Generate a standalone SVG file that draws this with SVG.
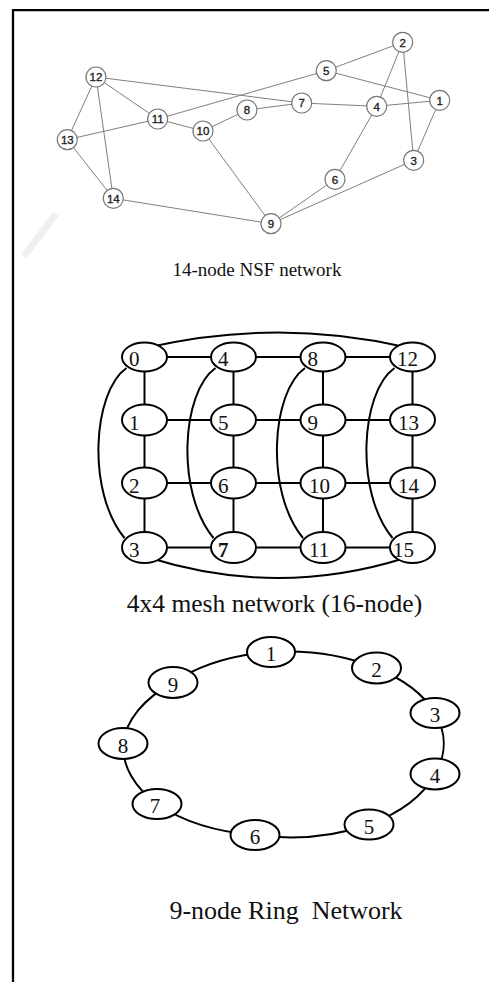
<svg xmlns="http://www.w3.org/2000/svg" width="489" height="982" viewBox="0 0 489 982">
<style>
.frame{stroke:#000;stroke-width:2.3;fill:none}
.nl{stroke:#808080;stroke-width:1;fill:none}
.nn{fill:#fff;stroke:#777;stroke-width:1.2}
.nt{font-family:"Liberation Sans",Arial,sans-serif;font-size:11.5px;fill:#222;stroke:#222;stroke-width:0.35;text-anchor:middle}
.ml{stroke:#000;stroke-width:2;fill:none}
.mn{fill:#fff;stroke:#000;stroke-width:2}
.mt{font-family:"Liberation Serif","Times New Roman",serif;font-size:21px;fill:#111}
.rt{font-family:"Liberation Serif","Times New Roman",serif;font-size:21px;fill:#111;text-anchor:middle}
.cap{font-family:"Liberation Serif","Times New Roman",serif;fill:#111;text-anchor:middle}
</style>
<rect width="489" height="982" fill="#fff"/>
<g id="frame">
<path class="frame" d="M13 982 V10.2 H489"/>
</g>
<g id="watermark">
<path d="M24 256 L56 214" stroke="#efefef" stroke-width="7" fill="none"/>
</g>

<!-- NSF connectors -->
<g id="nsf-connectors" class="nl">
<line x1="96" y1="77" x2="67.3" y2="139.7"/>
<line x1="96" y1="77" x2="113.3" y2="198.3"/>
<line x1="96" y1="77" x2="157.7" y2="119"/>
<line x1="96" y1="77" x2="301.7" y2="103"/>
<line x1="67.3" y1="139.7" x2="157.7" y2="119"/>
<line x1="67.3" y1="139.7" x2="113.3" y2="198.3"/>
<line x1="157.7" y1="119" x2="203" y2="131"/>
<line x1="157.7" y1="119" x2="326.3" y2="70.7"/>
<line x1="203" y1="131" x2="247" y2="110"/>
<line x1="203" y1="131" x2="271" y2="223.7"/>
<line x1="247" y1="110" x2="301.7" y2="103"/>
<line x1="301.7" y1="103" x2="376.7" y2="106.3"/>
<line x1="113.3" y1="198.3" x2="271" y2="223.7"/>
<line x1="326.3" y1="70.7" x2="402.7" y2="42.3"/>
<line x1="326.3" y1="70.7" x2="439.7" y2="100.3"/>
<line x1="402.7" y1="42.3" x2="376.7" y2="106.3"/>
<line x1="402.7" y1="42.3" x2="413.7" y2="160.3"/>
<line x1="376.7" y1="106.3" x2="439.7" y2="100.3"/>
<line x1="376.7" y1="106.3" x2="335" y2="179.3"/>
<line x1="439.7" y1="100.3" x2="413.7" y2="160.3"/>
<line x1="335" y1="179.3" x2="271" y2="223.7"/>
<line x1="413.7" y1="160.3" x2="271" y2="223.7"/>
</g>
<g id="nsf-nodes">
<g id="nsf1"><circle class="nn" cx="439.7" cy="100.3" r="10"/><text class="nt" x="439.7" y="104.5">1</text></g>
<g id="nsf2"><circle class="nn" cx="402.7" cy="42.3" r="10"/><text class="nt" x="402.7" y="46.5">2</text></g>
<g id="nsf3"><circle class="nn" cx="413.7" cy="160.3" r="10"/><text class="nt" x="413.7" y="164.5">3</text></g>
<g id="nsf4"><circle class="nn" cx="376.7" cy="106.3" r="10"/><text class="nt" x="376.7" y="110.5">4</text></g>
<g id="nsf5"><circle class="nn" cx="326.3" cy="70.7" r="10"/><text class="nt" x="326.3" y="74.9">5</text></g>
<g id="nsf6"><circle class="nn" cx="335" cy="179.3" r="10"/><text class="nt" x="335" y="183.5">6</text></g>
<g id="nsf7"><circle class="nn" cx="301.7" cy="103" r="10"/><text class="nt" x="301.7" y="107.2">7</text></g>
<g id="nsf8"><circle class="nn" cx="247" cy="110" r="10"/><text class="nt" x="247" y="114.2">8</text></g>
<g id="nsf9"><circle class="nn" cx="271" cy="223.7" r="10"/><text class="nt" x="271" y="227.9">9</text></g>
<g id="nsf10"><circle class="nn" cx="203" cy="131" r="10"/><text class="nt" x="203" y="135.2">10</text></g>
<g id="nsf11"><circle class="nn" cx="157.7" cy="119" r="10"/><text class="nt" x="157.7" y="123.2">11</text></g>
<g id="nsf12"><circle class="nn" cx="96" cy="77" r="10"/><text class="nt" x="96" y="81.2">12</text></g>
<g id="nsf13"><circle class="nn" cx="67.3" cy="139.7" r="10"/><text class="nt" x="67.3" y="143.9">13</text></g>
<g id="nsf14"><circle class="nn" cx="113.3" cy="198.3" r="10"/><text class="nt" x="113.3" y="202.5">14</text></g>
</g>
<text id="cap-nsf" class="cap" x="257" y="276" font-size="19">14-node NSF network</text>

<!-- Mesh connectors -->
<g id="mesh-connectors" class="ml">
<path d="M144.5 357 H412.5 M144.5 420 H412.5 M144.5 483 H412.5 M144.5 547.5 H412.5"/>
<path d="M144.5 357 V547.5 M233.5 357 V547.5 M323 357 V547.5 M412.5 357 V547.5"/>
<path d="M150 347 Q278 318 405 347"/>
<path d="M150 558 Q278 598 405 558"/>
<path d="M126.5 368 C92.5 392 86.5 492 124.5 538"/>
<path d="M215.5 368 C181.5 392 175.5 492 213.5 538"/>
<path d="M305 368 C271 392 265 492 303 538"/>
<path d="M394.5 368 C360.5 392 354.5 492 392.5 538"/>
</g>
<g id="mesh-nodes">
<g id="m0"><ellipse class="mn" cx="144.5" cy="357" rx="22.5" ry="14.5"/><text class="mt" x="129" y="366">0</text></g>
<g id="m4"><ellipse class="mn" cx="233.5" cy="357" rx="22.5" ry="14.5"/><text class="mt" x="218" y="366">4</text></g>
<g id="m8"><ellipse class="mn" cx="323" cy="357" rx="22.5" ry="14.5"/><text class="mt" x="307.5" y="366">8</text></g>
<g id="m12"><ellipse class="mn" cx="412.5" cy="357" rx="22.5" ry="14.5"/><text class="mt" x="397" y="366">12</text></g>
<g id="m1"><ellipse class="mn" cx="144.5" cy="420" rx="22.5" ry="15.5"/><text class="mt" x="129" y="429.5">1</text></g>
<g id="m5"><ellipse class="mn" cx="233.5" cy="420" rx="22.5" ry="15.5"/><text class="mt" x="218" y="429.5">5</text></g>
<g id="m9"><ellipse class="mn" cx="323" cy="420" rx="22.5" ry="15.5"/><text class="mt" x="307.5" y="429.5">9</text></g>
<g id="m13"><ellipse class="mn" cx="412.5" cy="420" rx="22.5" ry="15.5"/><text class="mt" x="398" y="429.5">13</text></g>
<g id="m2"><ellipse class="mn" cx="144.5" cy="483" rx="22.5" ry="15.5"/><text class="mt" x="129" y="492.5">2</text></g>
<g id="m6"><ellipse class="mn" cx="233.5" cy="483" rx="22.5" ry="15.5"/><text class="mt" x="218" y="492.5">6</text></g>
<g id="m10"><ellipse class="mn" cx="323" cy="483" rx="22.5" ry="15.5"/><text class="mt" x="309" y="492.5">10</text></g>
<g id="m14"><ellipse class="mn" cx="412.5" cy="483" rx="22.5" ry="15.5"/><text class="mt" x="398" y="492.5">14</text></g>
<g id="m3"><ellipse class="mn" cx="144.5" cy="547.5" rx="22.5" ry="15.5"/><text class="mt" x="129" y="557">3</text></g>
<g id="m7"><ellipse class="mn" cx="233.5" cy="547.5" rx="22.5" ry="15.5"/><text class="mt" x="218" y="557" font-weight="bold">7</text></g>
<g id="m11"><ellipse class="mn" cx="323" cy="547.5" rx="22.5" ry="15.5"/><text class="mt" x="309" y="557">11</text></g>
<g id="m15"><ellipse class="mn" cx="412.5" cy="547.5" rx="22.5" ry="15.5"/><text class="mt" x="393" y="557">15</text></g>
</g>
<text id="cap-mesh" class="cap" x="274.5" y="612" font-size="25.5">4x4 mesh network (16-node)</text>

<!-- Ring connectors -->
<g id="ring-connectors" class="ml">
<path d="M271 652 A157 93 0 0 1 376 668"/>
<path d="M376 668 A157 93 0 0 1 435 713"/>
<path d="M435 713 A157 93 0 0 1 435 774"/>
<path d="M435 774 A157 93 0 0 1 369 824.5"/>
<path d="M369 824.5 A157 93 0 0 1 255 835"/>
<path d="M255 835 A157 93 0 0 1 157 804"/>
<path d="M157 804 A157 93 0 0 1 123 743.5"/>
<path d="M123 743.5 A157 93 0 0 1 173 682.5"/>
<path d="M173 682.5 A157 93 0 0 1 271 652"/>
</g>
<g id="ring-nodes">
<g id="r1"><ellipse class="mn" cx="271" cy="652" rx="24" ry="15"/><text class="rt" x="271" y="661">1</text></g>
<g id="r2"><ellipse class="mn" cx="376.5" cy="668" rx="24.5" ry="15.5"/><text class="rt" x="376.5" y="677">2</text></g>
<g id="r3"><ellipse class="mn" cx="435" cy="713" rx="24.5" ry="15"/><text class="rt" x="435" y="722">3</text></g>
<g id="r4"><ellipse class="mn" cx="435" cy="774" rx="24.5" ry="15.5"/><text class="rt" x="435" y="783">4</text></g>
<g id="r5"><ellipse class="mn" cx="369" cy="824.5" rx="24.5" ry="15"/><text class="rt" x="369" y="833.5">5</text></g>
<g id="r6"><ellipse class="mn" cx="255" cy="835" rx="24.5" ry="15"/><text class="rt" x="255" y="844">6</text></g>
<g id="r7"><ellipse class="mn" cx="157" cy="804" rx="24.5" ry="15"/><text class="rt" x="155" y="813">7</text></g>
<g id="r8"><ellipse class="mn" cx="123" cy="743.5" rx="24.5" ry="15.5"/><text class="rt" x="123" y="752.5">8</text></g>
<g id="r9"><ellipse class="mn" cx="173" cy="682.5" rx="24.5" ry="15.5"/><text class="rt" x="173" y="691.5">9</text></g>
</g>
<text id="cap-ring" class="cap" x="286" y="919" font-size="26" xml:space="preserve">9-node Ring  Network</text>
</svg>
